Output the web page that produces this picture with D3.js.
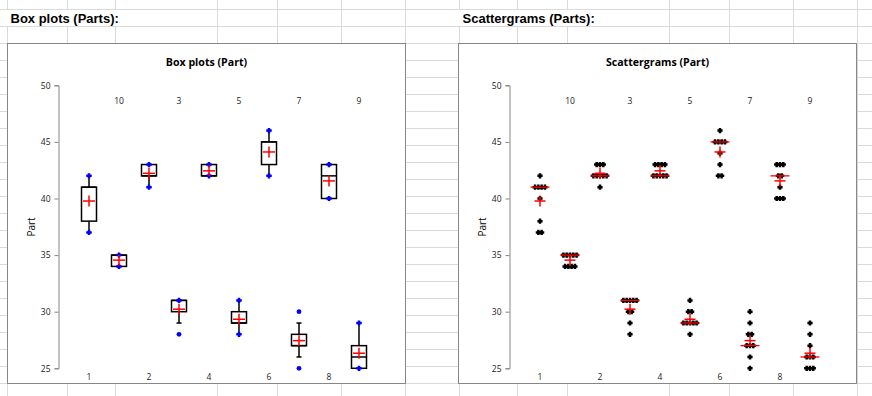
<!DOCTYPE html>
<html>
<head>
<meta charset="utf-8">
<script src="https://cdn.jsdelivr.net/npm/d3@7"></script>
<style>
  body { margin: 0; background: #fff; }
  svg { display: block; }
</style>
</head>
<body>
<svg id="sheet" width="872" height="396"></svg>
<script>
// Parts, in the order the charts show them (sorted as text)
const parts = ["1", "10", "2", "3", "4", "5", "6", "7", "8", "9"];

const partValues = [
  [42, 41, 41, 41, 41, 40, 38, 37, 37],
  [35, 35, 35, 35, 35, 34, 34, 34, 34],
  [43, 43, 43, 42, 42, 42, 42, 42, 41],
  [31, 31, 31, 31, 31, 30, 30, 29, 28],
  [43, 43, 43, 43, 42, 42, 42, 42, 42],
  [31, 30, 30, 29, 29, 29, 29, 29, 28],
  [46, 45, 45, 45, 45, 44, 43, 42, 42],
  [30, 29, 28, 28, 27, 27, 27, 26, 25],
  [43, 43, 43, 42, 42, 41, 40, 40, 40],
  [29, 28, 27, 26, 26, 26, 25, 25, 25]
];

const yTicks = [25, 30, 35, 40, 45, 50];
const sheetTitles = ["Box plots (Parts):", "Scattergrams (Parts):"];
const chartTitles = ["Box plots (Part)", "Scattergrams (Part)"];
const yLabel = "Part";

// ---- layout ----
const svg = d3.select("#sheet");
const chartFont = "'Open Sans', 'Noto Sans', sans-serif";

// spreadsheet gridlines behind everything
const colLines = [7, 67, 115, 217, 277, 341, 405, 459, 517, 567, 669, 729, 793, 857];
const rowLines = d3.range(0, 23).map(k => 9.5 + 17 * k);
const grid = svg.append("g").attr("stroke", "#dadada").attr("stroke-width", 1);
rowLines.forEach(y => grid.append("line").attr("x1", 0).attr("x2", 872).attr("y1", y).attr("y2", y));
colLines.forEach(x => {
  const hideTitleRow = (x > 6 && x < 217) || (x > 458 && x < 669); // title text overflows here
  if (hideTitleRow) {
    grid.append("line").attr("x1", x + 0.5).attr("x2", x + 0.5).attr("y1", 0).attr("y2", 9.5);
    grid.append("line").attr("x1", x + 0.5).attr("x2", x + 0.5).attr("y1", 26.5).attr("y2", 396);
  } else {
    grid.append("line").attr("x1", x + 0.5).attr("x2", x + 0.5).attr("y1", 0).attr("y2", 396);
  }
});

// sheet titles
[10.5, 462.5].forEach((x, i) => {
  svg.append("text")
    .attr("x", x).attr("y", 23)
    .attr("font-family", "'Liberation Sans', Arial, sans-serif")
    .attr("font-weight", "bold").attr("font-size", 13)
    .attr("fill", "#000")
    .text(sheetTitles[i]);
});

const chartW = 398, chartH = 340;
const chartX = [7.5, 458.5], chartY = 43.5;

const x = d3.scalePoint().domain(parts).range([81.5, 351.5]);
const y = d3.scaleLinear().domain([25, 50]).range([324.8, 41.8]);

// chunky plus marker like the spreadsheet one
function plus(a, t) {
  return `M${-t},${-a}H${t}V${-t}H${a}V${t}H${t}V${a}H${-t}V${t}H${-a}V${-t}H${-t}Z`;
}
const marker = plus(2.6, 1.25);

function drawFrame(g, i) {
  g.append("rect")
    .attr("width", chartW).attr("height", chartH)
    .attr("fill", "#fff").attr("stroke", "#868686").attr("stroke-width", 1);

  g.append("text")
    .attr("x", chartW / 2).attr("y", 18.5)
    .attr("text-anchor", "middle").attr("dominant-baseline", "central")
    .attr("font-family", chartFont).attr("font-weight", "bold").attr("font-size", 10.6)
    .attr("fill", "#000")
    .text(chartTitles[i]);

  const axis = g.append("g")
    .attr("transform", "translate(51,0)")
    .call(d3.axisLeft(y).tickValues(yTicks).tickSize(4).tickPadding(4));
  axis.select(".domain").attr("stroke", "#868686");
  axis.selectAll(".tick line").attr("stroke", "#868686");
  axis.selectAll(".tick text")
    .attr("font-family", chartFont).attr("font-size", 8.5).attr("fill", "#222");

  g.append("text")
    .attr("transform", "translate(23.5,183.5) rotate(-90)")
    .attr("text-anchor", "middle").attr("dominant-baseline", "central")
    .attr("font-family", chartFont).attr("font-size", 10).attr("fill", "#000")
    .text(yLabel);

  // category labels alternate between bottom and top
  g.selectAll(".cat")
    .data(parts)
    .enter().append("text")
    .attr("x", d => x(d))
    .attr("y", (d, j) => j % 2 === 0 ? 333.2 : 57.2)
    .attr("text-anchor", "middle").attr("dominant-baseline", "central")
    .attr("font-family", chartFont).attr("font-size", 8.5).attr("fill", "#222")
    .text(d => d);
}

// stats per part
const stats = parts.map((p, i) => {
  const v = partValues[i].slice().sort(d3.ascending);
  const q1 = d3.quantile(v, 0.25), med = d3.quantile(v, 0.5), q3 = d3.quantile(v, 0.75);
  const iqr = q3 - q1;
  const lo = d3.min(v.filter(d => d >= q1 - 1.5 * iqr));
  const hi = d3.max(v.filter(d => d <= q3 + 1.5 * iqr));
  return { part: p, values: v, q1, med, q3, lo, hi, mean: d3.mean(v),
           min: v[0], max: v[v.length - 1],
           outliers: v.filter(d => d < lo || d > hi) };
});

// ---- 1 Box plots ----
const g1 = svg.append("g").attr("transform", `translate(${chartX[0]},${chartY})`);
drawFrame(g1, 0);

const boxHalf = 7.5, capHalf = 2.5;
const boxes = g1.selectAll(".box").data(stats).enter().append("g")
  .attr("transform", d => `translate(${x(d.part)},0)`);

// whiskers with small caps
boxes.append("line").attr("y1", d => y(d.q3)).attr("y2", d => y(d.hi))
  .attr("stroke", "#000").attr("stroke-width", 1.5);
boxes.append("line").attr("y1", d => y(d.q1)).attr("y2", d => y(d.lo))
  .attr("stroke", "#000").attr("stroke-width", 1.5);
boxes.append("line").attr("x1", -capHalf).attr("x2", capHalf)
  .attr("y1", d => y(d.hi)).attr("y2", d => y(d.hi))
  .attr("stroke", "#000").attr("stroke-width", 1.5);
boxes.append("line").attr("x1", -capHalf).attr("x2", capHalf)
  .attr("y1", d => y(d.lo)).attr("y2", d => y(d.lo))
  .attr("stroke", "#000").attr("stroke-width", 1.5);

boxes.append("rect")
  .attr("x", -boxHalf).attr("width", boxHalf * 2)
  .attr("y", d => y(d.q3)).attr("height", d => y(d.q1) - y(d.q3))
  .attr("fill", "none").attr("stroke", "#000").attr("stroke-width", 1.5);
boxes.append("line").attr("x1", -boxHalf).attr("x2", boxHalf)
  .attr("y1", d => y(d.med)).attr("y2", d => y(d.med))
  .attr("stroke", "#000").attr("stroke-width", 1.5);

// min / max markers, outliers as dots
boxes.each(function (d) {
  const b = d3.select(this);
  [d.min, d.max].forEach(v => {
    if (d.outliers.includes(v)) {
      b.append("circle").attr("cy", y(v)).attr("r", 2.4).attr("fill", "#0000ff");
    } else {
      b.append("path").attr("d", marker).attr("transform", `translate(0,${y(v)})`).attr("fill", "#0000ff");
    }
  });
});

// mean
boxes.append("line").attr("x1", -6).attr("x2", 6)
  .attr("y1", d => y(d.mean)).attr("y2", d => y(d.mean))
  .attr("stroke", "#ff0000").attr("stroke-width", 1.5);
boxes.append("line").attr("x1", 0).attr("x2", 0)
  .attr("y1", d => y(d.mean) - 5.5).attr("y2", d => y(d.mean) + 5.5)
  .attr("stroke", "#ff0000").attr("stroke-width", 1.5);

// ---- 2 Scattergrams ----
const g2 = svg.append("g").attr("transform", `translate(${chartX[1]},${chartY})`);
drawFrame(g2, 1);

const step = 3.3;
const cols = g2.selectAll(".col").data(stats).enter().append("g")
  .attr("transform", d => `translate(${x(d.part)},0)`);

cols.each(function (d) {
  const c = d3.select(this);
  const groups = d3.group(d.values, v => v);
  groups.forEach((arr, v) => {
    arr.forEach((_, j) => {
      const dx = (j - (arr.length - 1) / 2) * step;
      c.append("path").attr("d", marker)
        .attr("transform", `translate(${dx},${y(v)})`).attr("fill", "#000");
    });
  });
});

// median line and mean cross
cols.append("line").attr("x1", -9.5).attr("x2", 9.5)
  .attr("y1", d => y(d.med)).attr("y2", d => y(d.med))
  .attr("stroke", "#ff0000").attr("stroke-width", 1.3);
cols.append("line").attr("x1", -5.5).attr("x2", 5.5)
  .attr("y1", d => y(d.mean)).attr("y2", d => y(d.mean))
  .attr("stroke", "#ff0000").attr("stroke-width", 1.5);
cols.append("line").attr("x1", 0).attr("x2", 0)
  .attr("y1", d => y(d.mean) - 5.5).attr("y2", d => y(d.mean) + 5.5)
  .attr("stroke", "#ff0000").attr("stroke-width", 1.5);
</script>
</body>
</html>
